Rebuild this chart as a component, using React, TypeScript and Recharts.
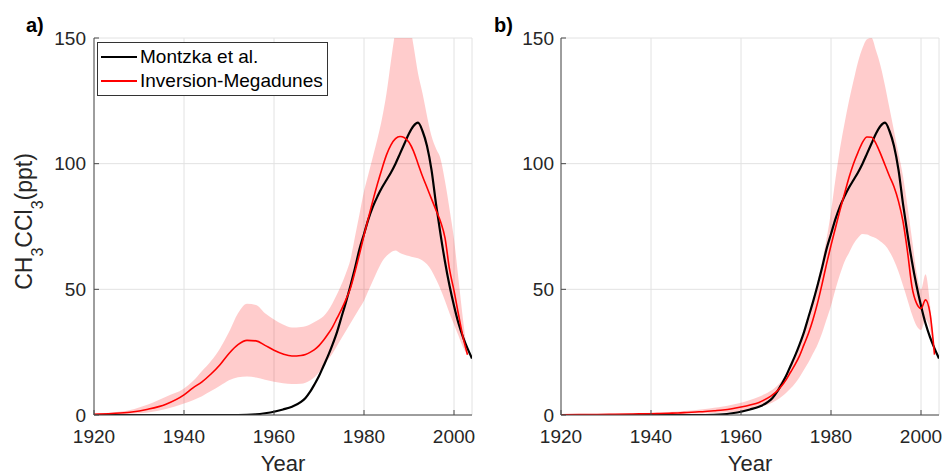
import React from "react";
import { ComposedChart, Line, Area, XAxis, YAxis, CartesianGrid, Legend } from "recharts";

// sample years (coarser before 1966, yearly after)
const YEARS = [
  1920, 1924, 1928, 1932, 1936, 1940, 1942, 1944, 1946, 1948, 1950, 1952, 1954, 1956, 1958, 1960, 1962, 1964, 1966,
  1967, 1968, 1969, 1970, 1971, 1972, 1973, 1974, 1975, 1976, 1977, 1978, 1979, 1980, 1981, 1982, 1983, 1984, 1985,
  1986, 1987, 1988, 1989, 1990, 1991, 1992, 1993, 1994, 1995, 1996, 1997, 1998, 1999, 2000, 2001, 2002, 2003, 2004,
];

// Montzka et al. (same in both panels)
const MONTZKA = [
  0, 0, 0, 0, 0, 0, 0, 0, 0, 0, 0, 0, 0.05, 0.25, 0.7, 1.3, 2.2, 3.3, 5.2,
  6.8, 9.2, 12.2, 15.5, 19.5, 23.5, 28, 33, 39, 45, 51.5, 58.5, 66, 72, 78, 83, 87, 90.5, 93.5,
  96.5, 100, 104, 108, 112, 115, 116.3, 113, 107, 97.5, 84, 72, 61, 51.5, 43.5, 36.5, 31, 26.5, 22.5,
];

// panel a) inversion
const INV_A = [
  0.3, 0.6, 1.1, 2.3, 4.3, 8.0, 10.8, 13.2, 16.3, 20, 24.5, 28, 29.7, 29.5, 27.7, 25.8, 24.3, 23.5, 23.7,
  24.1, 24.9, 26, 27.6, 29.7, 32.2, 35, 38.5, 42, 46, 50.5, 57, 64, 71.5, 78.5, 85.5, 92, 98, 103.5,
  107.5, 110, 110.8, 110.3, 108.5, 105, 100, 95, 90.5, 86, 81.5, 77, 70.5, 58, 49.5, 40, 31, 24, null,
];
const INV_A_LO = [
  0, 0.2, 0.5, 1.0, 2.4, 4.6, 5.9, 7.5, 9.5, 11.6, 13.8, 15, 15.3, 14.9, 14, 13.2, 12.6, 12.3, 12.4,
  12.8, 13.7, 15, 17, 19.5, 22, 24.5, 27.5, 30.5, 33.5, 36.5, 39.5, 42.5, 45.5, 49.5, 53.5, 57.5, 61, 63.3,
  64.8, 65.5, 64.5, 63.8, 63.3, 62.8, 62.4, 61.5, 60, 57.5, 54, 50, 45.5, 40.5, 36, 31.5, 27, 24, null,
];
const INV_A_HI = [
  0.6, 1.0, 2.0, 4.2, 7.3, 10.5, 13.5, 17.5, 21.5, 26.5, 33, 40.5, 44.3, 43.8, 40.5, 38, 36, 34.8, 35,
  35.3, 36, 37, 38, 39.3, 41.5, 44.5, 48, 52, 56.5, 62, 71, 80, 89, 96, 103, 110, 118, 128,
  141, 153, 160, 162, 157, 147, 136, 128, 119, 111, 106, 102, 93, 82, 70, 54, 38, 24, null,
];

// panel b) inversion
const INV_B = [
  0.1, 0.15, 0.2, 0.3, 0.4, 0.5, 0.6, 0.7, 0.8, 1.0, 1.2, 1.4, 1.7, 2.0, 2.5, 3.2, 4.0, 5.0, 6.8,
  8.0, 9.5, 11.5, 14, 17, 20, 23.5, 28, 32.5, 38, 44.5, 52, 60, 67.5, 74.5, 81.5, 88, 94.5, 100,
  104.5, 108.5, 110.6, 110.5, 108, 104, 99.5, 95, 90.8, 85, 77, 65, 51, 44.5, 42.4, 45.8, 40.5, 24, null,
];
const INV_B_LO = [
  0, 0.02, 0.05, 0.08, 0.12, 0.2, 0.25, 0.3, 0.35, 0.45, 0.55, 0.65, 0.8, 0.95, 1.1, 1.4, 2.0, 3.0, 4.2,
  5.0, 6.0, 7.3, 8.8, 10.5, 12.5, 15, 18, 21, 24.5, 28, 32.5, 38, 43.5, 50, 56, 61, 64.5, 68,
  70.5, 72, 71.8, 71, 70.3, 69, 67.5, 65, 61.5, 57, 51.5, 45.8, 40, 35.5, 33.8, 38, 34, 24, null,
];
const INV_B_HI = [
  0.2, 0.25, 0.35, 0.5, 0.7, 0.9, 1.0, 1.2, 1.4, 1.7, 2.0, 2.4, 2.9, 3.4, 4.1, 4.9, 6.0, 7.3, 9.0,
  10, 11.5, 13.5, 16, 19.5, 23.5, 28, 33, 39.5, 46, 53, 61, 70, 81, 94, 106, 116, 125, 133,
  140.5, 146, 149.5, 150, 145, 139, 131, 122, 113, 104, 95, 83, 70, 57, 50, 56, 44, 24, null,
];

const X_TICKS = [1920, 1940, 1960, 1980, 2000];
const Y_TICKS = [0, 50, 100, 150];
const LEGEND_ITEMS = [
  { label: "Montzka et al.", color: "#000000", width: 2.5 },
  { label: "Inversion-Megadunes", color: "#ff0000", width: 1.5 },
];

const FONT = '"Liberation Sans", Arial, Helvetica, sans-serif';
const AXIS = "#4a4a4a";
const TEXT = "#262626";

const buildRows = (inv: (number | null)[], lo: (number | null)[], hi: (number | null)[]) =>
  YEARS.map((year, i) => ({
    year,
    montzka: MONTZKA[i],
    inv: inv[i],
    band: lo[i] == null ? null : [lo[i], hi[i]],
  }));

const rowsA = buildRows(INV_A, INV_A_LO, INV_A_HI);
const rowsB = buildRows(INV_B, INV_B_LO, INV_B_HI);

const YLabel = (props: any) => {
  const vb = props.viewBox;
  const cx = vb.x + 32;
  const cy = vb.y + vb.height / 2 - 5;
  return (
    <text transform={`rotate(-90 ${cx} ${cy})`} x={cx} y={cy} textAnchor="middle" fontSize={23} fill={TEXT}>
      CH<tspan fontSize={16} dy={11}>3</tspan>
      <tspan dy={-11}>CCl</tspan>
      <tspan fontSize={16} dy={11}>3</tspan>
      <tspan dy={-11}>(ppt)</tspan>
    </text>
  );
};

const XLabel = (props: any) => {
  const vb = props.viewBox;
  return (
    <text x={vb.x + vb.width / 2} y={vb.y + vb.height + 26} textAnchor="middle" fontSize={22} fill={TEXT}>
      Year
    </text>
  );
};

const LegendBox = () => (
  <div
    style={{
      border: "1px solid #333",
      background: "#fff",
      padding: "2px 4px 2px 3px",
      fontFamily: FONT,
      fontSize: 19,
      color: "#000",
    }}
  >
    {LEGEND_ITEMS.map((it) => (
      <div key={it.label} style={{ display: "flex", alignItems: "center", height: 24 }}>
        <span style={{ display: "inline-block", width: 36, height: it.width, background: it.color, marginRight: 3 }} />
        <span style={{ whiteSpace: "nowrap" }}>{it.label}</span>
      </div>
    ))}
  </div>
);

function Panel({
  rows,
  left,
  width,
  marginRight,
  yAxisWidth,
  yTickMargin,
  tag,
  first,
}: {
  rows: any[];
  left: number;
  width: number;
  marginRight: number;
  yAxisWidth: number;
  yTickMargin: number;
  tag: string;
  first: boolean;
}) {
  return (
    <div style={{ position: "absolute", left, top: 0, width, height: 476 }}>
      <ComposedChart
        width={width}
        height={476}
        data={rows}
        margin={{ top: 38, right: marginRight, bottom: 31, left: 0 }}
      >
        <CartesianGrid xAxisId="x" yAxisId="y" stroke="#e2e2e2" strokeWidth={1} />
        <XAxis
          xAxisId="x"
          dataKey="year"
          type="number"
          domain={[1920, 2004]}
          ticks={X_TICKS}
          interval={0}
          allowDataOverflow
          height={30}
          tickSize={-5}
          tickMargin={20}
          stroke={AXIS}
          tick={{ fill: TEXT, fontSize: 19 }}
          label={{ content: XLabel }}
        />
        <XAxis
          xAxisId="top"
          orientation="top"
          dataKey="year"
          type="number"
          domain={[1920, 2004]}
          ticks={X_TICKS}
          interval={0}
          allowDataOverflow
          height={0}
          tickSize={-5}
          tick={false}
          stroke={AXIS}
        />
        <YAxis
          yAxisId="y"
          type="number"
          domain={[0, 150]}
          ticks={Y_TICKS}
          interval={0}
          allowDataOverflow
          width={yAxisWidth}
          tickSize={-5}
          tickMargin={yTickMargin}
          stroke={AXIS}
          tick={{ fill: TEXT, fontSize: 19 }}
          label={first ? { content: YLabel } : undefined}
        />
        <YAxis
          yAxisId="right"
          orientation="right"
          type="number"
          domain={[0, 150]}
          ticks={Y_TICKS}
          interval={0}
          allowDataOverflow
          width={0}
          tickSize={-5}
          tick={false}
          stroke={AXIS}
        />
        <Line
          xAxisId="x"
          yAxisId="y"
          type="monotone"
          dataKey="montzka"
          stroke="#000000"
          strokeWidth={2.2}
          dot={false}
          isAnimationActive={false}
        />
        <Area
          xAxisId="x"
          yAxisId="y"
          type="monotone"
          dataKey="band"
          fill="#ff0000"
          fillOpacity={0.2}
          stroke="none"
          isAnimationActive={false}
        />
        <Line
          xAxisId="x"
          yAxisId="y"
          type="monotone"
          dataKey="inv"
          stroke="#ff0000"
          strokeWidth={1.6}
          dot={false}
          isAnimationActive={false}
        />
        {first && (
          <Legend
            layout="vertical"
            align="center"
            verticalAlign="middle"
            wrapperStyle={{ top: 42, left: 97, width: "auto", height: "auto" }}
            content={() => <LegendBox />}
          />
        )}
      </ComposedChart>
      <svg width={60} height={40} style={{ position: "absolute", left: 0, top: 0, overflow: "visible" }}>
        <text x={first ? 26 : 21} y={32} fontSize={20} fontWeight="bold" fill="#000">
          {tag}
        </text>
      </svg>
    </div>
  );
}

export default function App() {
  return (
    <div
      style={{
        position: "fixed",
        left: 0,
        top: 0,
        width: 946,
        height: 476,
        background: "#fff",
        fontFamily: FONT,
        overflow: "hidden",
      }}
    >
      <Panel rows={rowsA} left={0} width={490} marginRight={18} yAxisWidth={94} yTickMargin={13} tag="a)" first />
      <Panel rows={rowsB} left={473} width={473} marginRight={7} yAxisWidth={88} yTickMargin={12} tag="b)" first={false} />
    </div>
  );
}
